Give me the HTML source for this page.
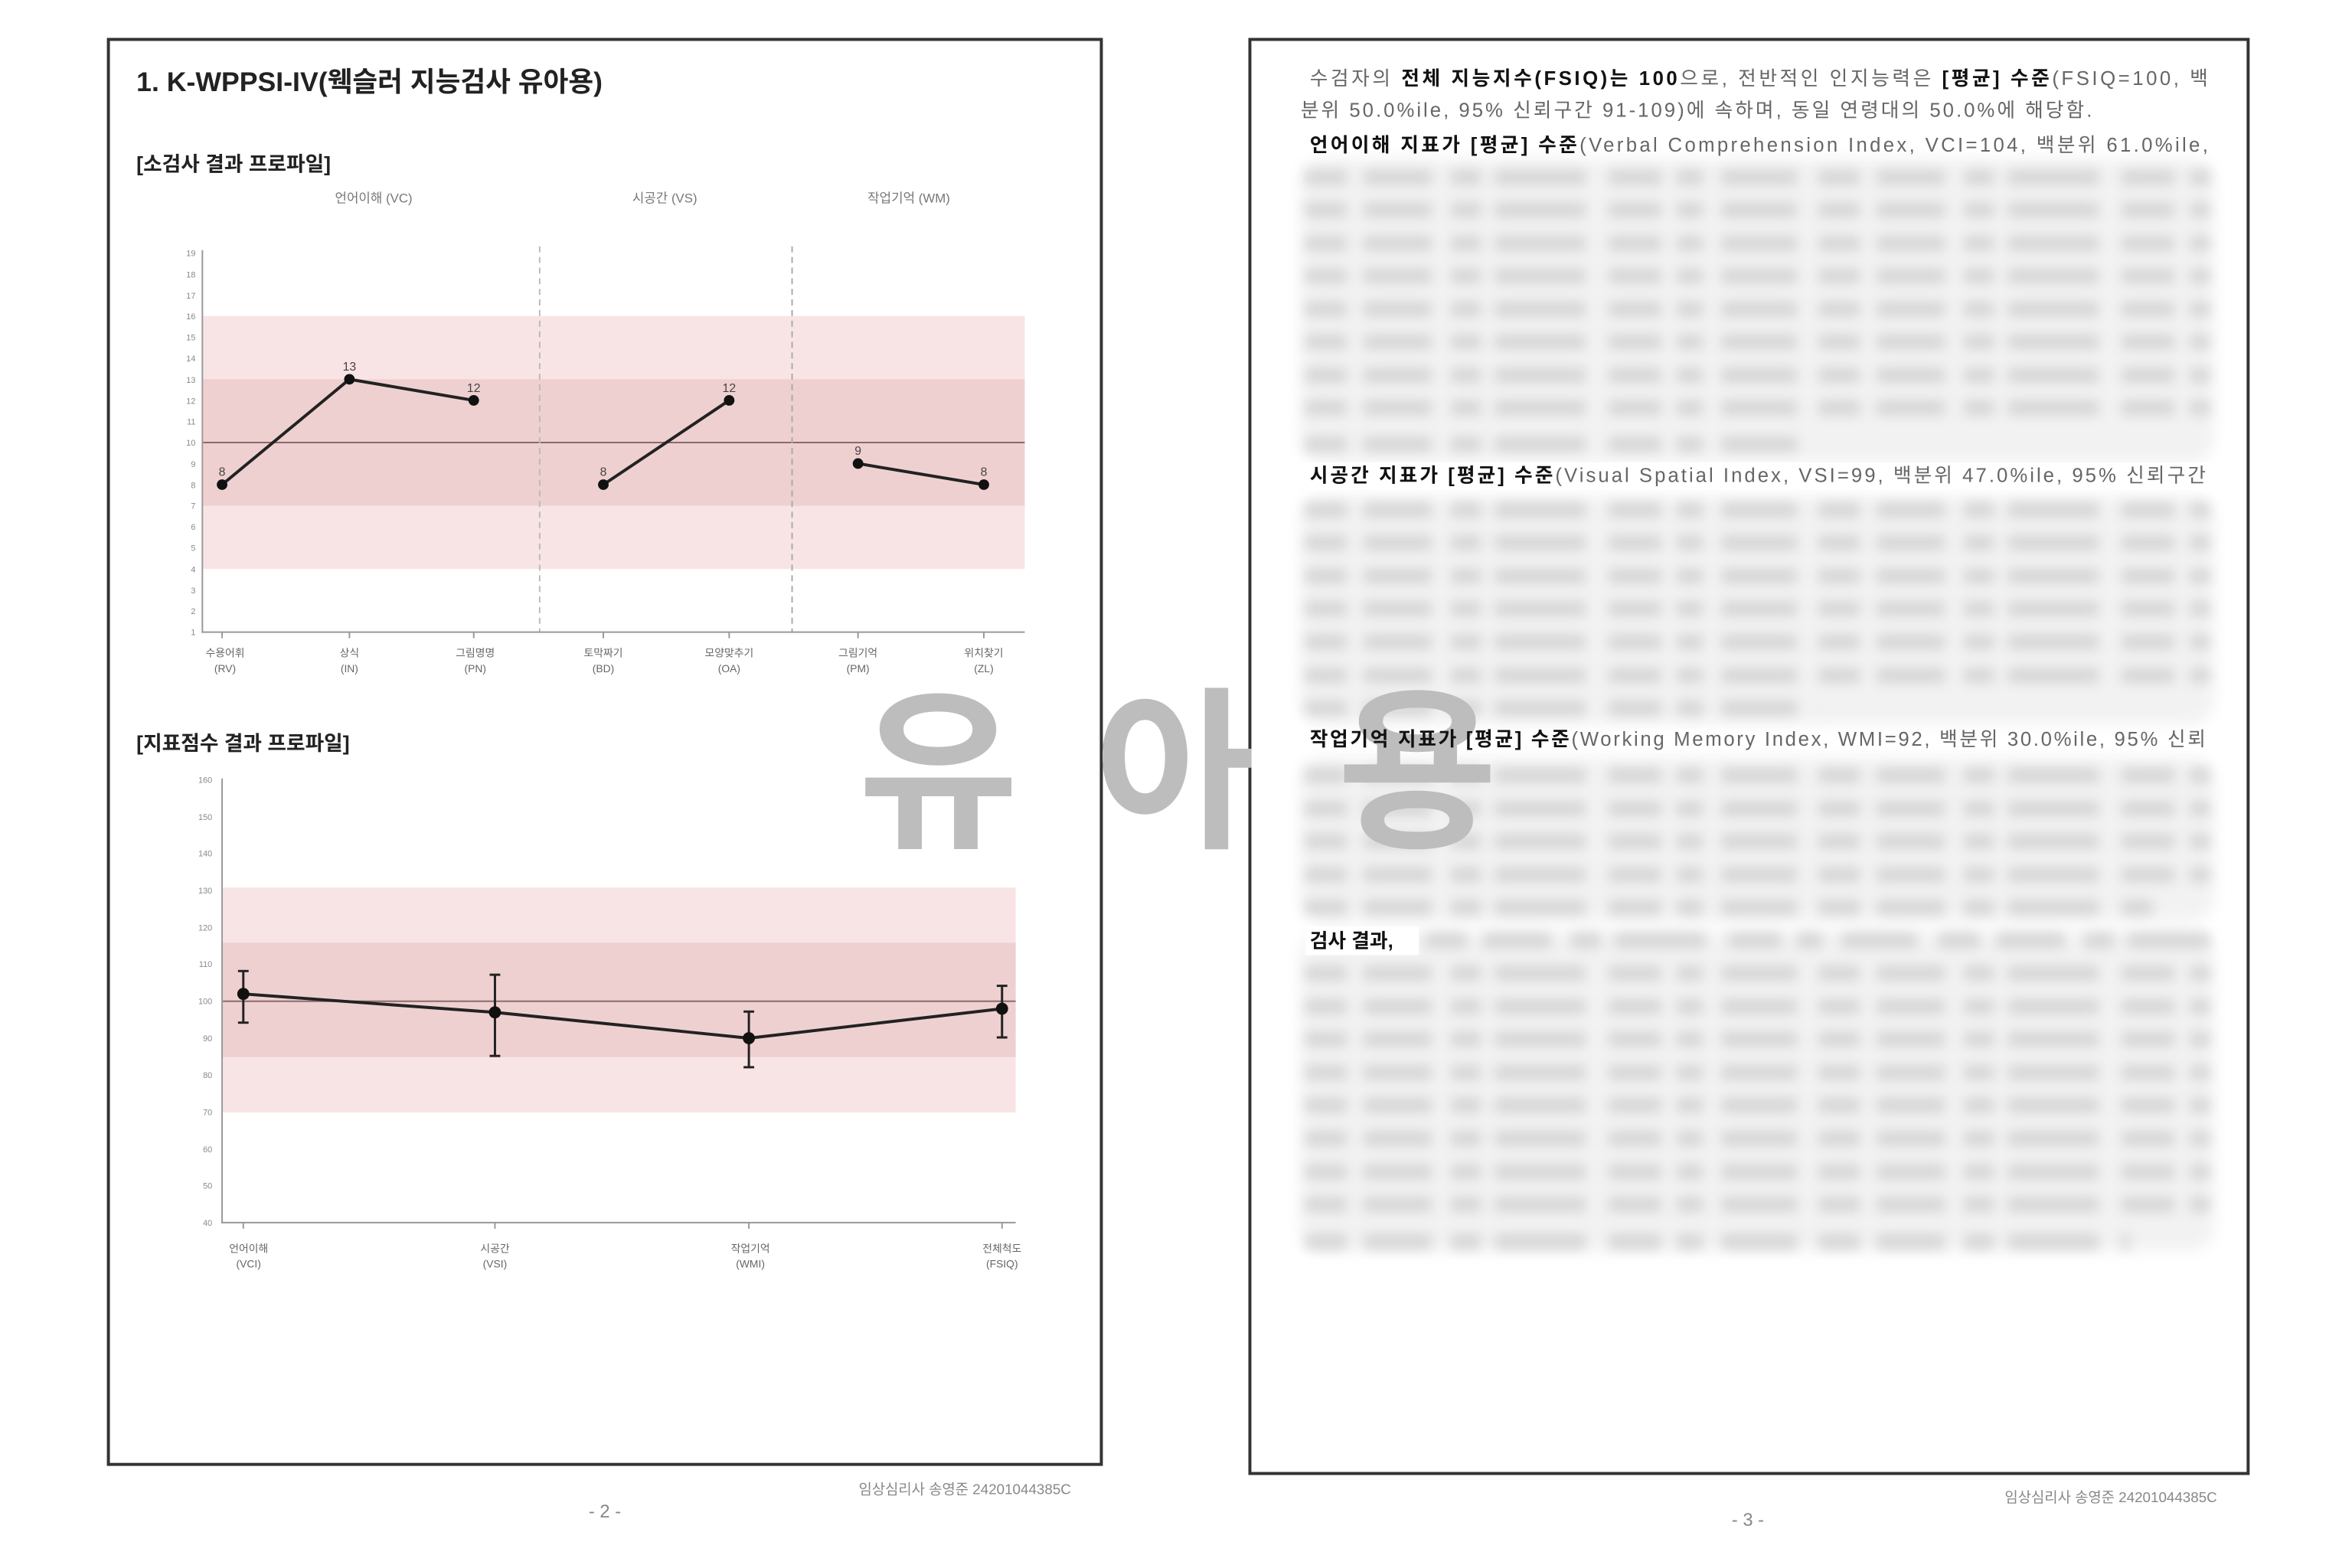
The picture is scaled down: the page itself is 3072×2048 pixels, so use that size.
<!DOCTYPE html>
<html><head><meta charset="utf-8"><style>
html,body{margin:0;padding:0;background:#fff;}
svg{display:block;}
text{font-family:"Liberation Sans","Noto Sans CJK KR",sans-serif;}
</style></head><body>
<svg width="3072" height="2048" viewBox="0 0 3072 2048" xmlns="http://www.w3.org/2000/svg">
<defs>
<filter id="bl" x="-5%" y="-50%" width="110%" height="200%"><feGaussianBlur stdDeviation="8"/></filter>
<filter id="bl2" x="-5%" y="-20%" width="110%" height="140%"><feGaussianBlur stdDeviation="10"/></filter>
</defs>
<rect width="3072" height="2048" fill="#fff"/>
<g transform="scale(0.99)">
<rect x="143" y="52" width="1310" height="1880" fill="#fff" stroke="#333" stroke-width="4"/>
<text x="180" y="120" font-size="36" font-weight="bold" fill="#222">1. K-WPPSI-IV(웩슬러 지능검사 유아용)</text>
<text x="180" y="226" font-size="27" font-weight="bold" fill="#222">[소검사 결과 프로파일]</text>
<g font-size="17" fill="#777" text-anchor="middle">
<text x="493" y="267">언어이해 (VC)</text>
<text x="877" y="267">시공간 (VS)</text>
<text x="1199" y="267">작업기억 (WM)</text>
</g>
<rect x="268" y="417" width="1084" height="333.6" fill="#f9e4e5"/>
<rect x="268" y="500.4" width="1084" height="166.8" fill="#efd0d0"/>
<line x1="268" y1="583.8" x2="1352" y2="583.8" stroke="#8a6a6a" stroke-width="2"/>
<line x1="712" y1="325" x2="712" y2="834" stroke="#bbb" stroke-width="2" stroke-dasharray="8 6"/>
<line x1="1045" y1="325" x2="1045" y2="834" stroke="#aaa" stroke-width="2" stroke-dasharray="8 6"/>
<line x1="267" y1="330" x2="267" y2="835" stroke="#999" stroke-width="2"/>
<line x1="266" y1="834" x2="1352" y2="834" stroke="#999" stroke-width="2"/>
<g font-size="11" fill="#888" text-anchor="end">
<text x="258" y="338">19</text><text x="258" y="366">18</text><text x="258" y="394">17</text><text x="258" y="421">16</text><text x="258" y="449">15</text><text x="258" y="477">14</text><text x="258" y="505">13</text><text x="258" y="533">12</text><text x="258" y="560">11</text><text x="258" y="588">10</text><text x="258" y="616">9</text><text x="258" y="644">8</text><text x="258" y="671">7</text><text x="258" y="699">6</text><text x="258" y="727">5</text><text x="258" y="755">4</text><text x="258" y="783">3</text><text x="258" y="810">2</text><text x="258" y="838">1</text>
</g>
<polyline points="293,639.4 461,500.4 625,528.2" fill="none" stroke="#222" stroke-width="4"/>
<polyline points="796,639.4 962,528.2" fill="none" stroke="#222" stroke-width="4"/>
<polyline points="1132,611.6 1298,639.4" fill="none" stroke="#222" stroke-width="4"/>
<g fill="#111">
<circle cx="293" cy="639.4" r="7"/><circle cx="461" cy="500.4" r="7"/><circle cx="625" cy="528.2" r="7"/>
<circle cx="796" cy="639.4" r="7"/><circle cx="962" cy="528.2" r="7"/>
<circle cx="1132" cy="611.6" r="7"/><circle cx="1298" cy="639.4" r="7"/>
</g>
<g font-size="16" fill="#444" text-anchor="middle" font-family="Liberation Serif,serif">
<text x="293" y="628">8</text><text x="461" y="489">13</text><text x="625" y="517">12</text>
<text x="796" y="628">8</text><text x="962" y="517">12</text>
<text x="1132" y="600">9</text><text x="1298" y="628">8</text>
</g>
<g stroke="#999" stroke-width="2"><line x1="293" y1="834" x2="293" y2="842"/><line x1="461" y1="834" x2="461" y2="842"/><line x1="625" y1="834" x2="625" y2="842"/><line x1="796" y1="834" x2="796" y2="842"/><line x1="962" y1="834" x2="962" y2="842"/><line x1="1132" y1="834" x2="1132" y2="842"/><line x1="1298" y1="834" x2="1298" y2="842"/></g>
<g font-size="14" fill="#666" text-anchor="middle">
<text x="297" y="866">수용어휘</text><text x="297" y="887">(RV)</text>
<text x="461" y="866">상식</text><text x="461" y="887">(IN)</text>
<text x="627" y="866">그림명명</text><text x="627" y="887">(PN)</text>
<text x="796" y="866">토막짜기</text><text x="796" y="887">(BD)</text>
<text x="962" y="866">모양맞추기</text><text x="962" y="887">(OA)</text>
<text x="1132" y="866">그림기억</text><text x="1132" y="887">(PM)</text>
<text x="1298" y="866">위치찾기</text><text x="1298" y="887">(ZL)</text>
</g>
<text x="180" y="990" font-size="27" font-weight="bold" fill="#222">[지표점수 결과 프로파일]</text>
<rect x="294" y="1170.9" width="1046" height="296.9" fill="#f9e4e5"/>
<rect x="294" y="1243.8" width="1046" height="150.9" fill="#efd0d0"/>
<line x1="294" y1="1321" x2="1340" y2="1321" stroke="#8a6a6a" stroke-width="2"/>
<line x1="293" y1="1027" x2="293" y2="1614" stroke="#999" stroke-width="2"/>
<line x1="292" y1="1613" x2="1340" y2="1613" stroke="#999" stroke-width="2"/>
<g font-size="11" fill="#888" text-anchor="end">
<text x="280" y="1033">160</text><text x="280" y="1082">150</text><text x="280" y="1130">140</text><text x="280" y="1179">130</text><text x="280" y="1228">120</text><text x="280" y="1276">110</text><text x="280" y="1325">100</text><text x="280" y="1374">90</text><text x="280" y="1422">80</text><text x="280" y="1471">70</text><text x="280" y="1520">60</text><text x="280" y="1568">50</text><text x="280" y="1617">40</text>
</g>
<g stroke="#222" stroke-width="3">
<line x1="321" y1="1281.1" x2="321" y2="1349.2"/><line x1="314" y1="1281.1" x2="328" y2="1281.1"/><line x1="314" y1="1349.2" x2="328" y2="1349.2"/>
<line x1="653" y1="1286" x2="653" y2="1393.1"/><line x1="646" y1="1286" x2="660" y2="1286"/><line x1="646" y1="1393.1" x2="660" y2="1393.1"/>
<line x1="988" y1="1334.6" x2="988" y2="1408"/><line x1="981" y1="1334.6" x2="995" y2="1334.6"/><line x1="981" y1="1408" x2="995" y2="1408"/>
<line x1="1322" y1="1300.6" x2="1322" y2="1368.7"/><line x1="1315" y1="1300.6" x2="1329" y2="1300.6"/><line x1="1315" y1="1368.7" x2="1329" y2="1368.7"/>
</g>
<polyline points="321,1311.3 653,1335.6 988,1369.7 1322,1330.8" fill="none" stroke="#222" stroke-width="4"/>
<g fill="#111"><circle cx="321" cy="1311.3" r="8"/><circle cx="653" cy="1335.6" r="8"/><circle cx="988" cy="1369.7" r="8"/><circle cx="1322" cy="1330.8" r="8"/></g>
<g stroke="#999" stroke-width="2"><line x1="321" y1="1613" x2="321" y2="1621"/><line x1="653" y1="1613" x2="653" y2="1621"/><line x1="988" y1="1613" x2="988" y2="1621"/><line x1="1322" y1="1613" x2="1322" y2="1621"/></g>
<g font-size="14" fill="#666" text-anchor="middle">
<text x="328" y="1652">언어이해</text><text x="328" y="1672">(VCI)</text>
<text x="653" y="1652">시공간</text><text x="653" y="1672">(VSI)</text>
<text x="990" y="1652">작업기억</text><text x="990" y="1672">(WMI)</text>
<text x="1322" y="1652">전체척도</text><text x="1322" y="1672">(FSIQ)</text>
</g>
<text x="1413" y="1971" font-size="19" fill="#888" text-anchor="end">임상심리사 송영준 24201044385C</text>
<text x="798" y="2002" font-size="24" fill="#888" text-anchor="middle">- 2 -</text>

<rect x="1649" y="52" width="1317" height="1892" fill="#fff" stroke="#333" stroke-width="4"/>
<g filter="url(#bl2)" fill="#f2f2f2">
<rect x="1716" y="210" width="1205" height="400" rx="30"/>
<rect x="1716" y="655" width="1205" height="300" rx="30"/>
<rect x="1716" y="1000" width="1205" height="215" rx="30"/>
<rect x="1716" y="1230" width="1205" height="420" rx="30"/>
</g>
<g filter="url(#bl)" stroke="#d6d6d6" stroke-width="20" stroke-dasharray="55 22 90 25 40 18 120 30 70 20 35 24 100 28">
<line x1="1722" y1="234" x2="2915" y2="234"/><line x1="1722" y1="277" x2="2915" y2="277"/><line x1="1722" y1="321" x2="2915" y2="321"/><line x1="1722" y1="364" x2="2915" y2="364"/><line x1="1722" y1="408" x2="2915" y2="408"/><line x1="1722" y1="451" x2="2915" y2="451"/><line x1="1722" y1="495" x2="2915" y2="495"/><line x1="1722" y1="538" x2="2915" y2="538"/><line x1="1722" y1="586" x2="2380" y2="586"/>
<line x1="1722" y1="673" x2="2915" y2="673"/><line x1="1722" y1="716" x2="2915" y2="716"/><line x1="1722" y1="760" x2="2915" y2="760"/><line x1="1722" y1="803" x2="2915" y2="803"/><line x1="1722" y1="847" x2="2915" y2="847"/><line x1="1722" y1="891" x2="2915" y2="891"/><line x1="1722" y1="934" x2="2400" y2="934"/>
<line x1="1722" y1="1023" x2="2915" y2="1023"/><line x1="1722" y1="1067" x2="2915" y2="1067"/><line x1="1722" y1="1110" x2="2915" y2="1110"/><line x1="1722" y1="1154" x2="2915" y2="1154"/><line x1="1722" y1="1197" x2="2840" y2="1197"/>
<line x1="1880" y1="1241" x2="2915" y2="1241"/><line x1="1722" y1="1284" x2="2915" y2="1284"/><line x1="1722" y1="1328" x2="2915" y2="1328"/><line x1="1722" y1="1371" x2="2915" y2="1371"/><line x1="1722" y1="1415" x2="2915" y2="1415"/><line x1="1722" y1="1458" x2="2915" y2="1458"/><line x1="1722" y1="1502" x2="2915" y2="1502"/><line x1="1722" y1="1546" x2="2915" y2="1546"/><line x1="1722" y1="1589" x2="2915" y2="1589"/><line x1="1722" y1="1638" x2="2810" y2="1638"/>
</g>
<g font-size="230" font-weight="bold" fill="#bdbdbd" text-anchor="middle">
<text x="1238" y="1100">유</text>
<text x="1550" y="1100">아</text>
<text x="1870" y="1100">용</text>
</g>
<g font-size="26" fill="#666">
<text x="1728" y="112" textLength="1185" lengthAdjust="spacing"><tspan>수검자의 </tspan><tspan font-weight="bold" fill="#111">전체 지능지수(FSIQ)는 100</tspan><tspan>으로, 전반적인 인지능력은 </tspan><tspan font-weight="bold" fill="#111">[평균] 수준</tspan><tspan>(FSIQ=100, 백</tspan></text>
<text x="1716" y="154" textLength="1044" lengthAdjust="spacing">분위 50.0%ile, 95% 신뢰구간 91-109)에 속하며, 동일 연령대의 50.0%에 해당함.</text>
<text x="1728" y="200" textLength="1185" lengthAdjust="spacing"><tspan font-weight="bold" fill="#111">언어이해 지표가 [평균] 수준</tspan><tspan>(Verbal Comprehension Index, VCI=104, 백분위 61.0%ile,</tspan></text>
<rect x="1720" y="610" width="1200" height="36" fill="#fff"/>
<text x="1728" y="636" textLength="1182" lengthAdjust="spacing"><tspan font-weight="bold" fill="#111">시공간 지표가 [평균] 수준</tspan><tspan>(Visual Spatial Index, VSI=99, 백분위 47.0%ile, 95% 신뢰구간</tspan></text>
<text x="1728" y="984" textLength="1182" lengthAdjust="spacing"><tspan font-weight="bold" fill="#111">작업기억 지표가 [평균] 수준</tspan><tspan>(Working Memory Index, WMI=92, 백분위 30.0%ile, 95% 신뢰</tspan></text>
<rect x="1722" y="1222" width="150" height="38" fill="#fff"/>
<text x="1728" y="1250" font-weight="bold" fill="#111">검사 결과,</text>
</g>
<text x="2925" y="1982" font-size="19" fill="#888" text-anchor="end">임상심리사 송영준 24201044385C</text>
<text x="2306" y="2013" font-size="24" fill="#888" text-anchor="middle">- 3 -</text>
</g>
</svg>
</body></html>
